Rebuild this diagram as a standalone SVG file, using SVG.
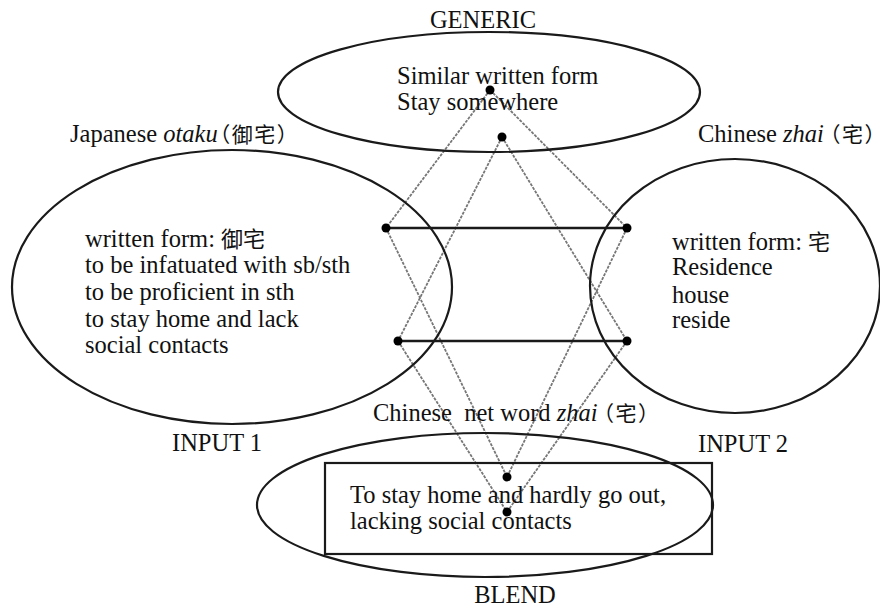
<svg xmlns="http://www.w3.org/2000/svg" width="880" height="609" viewBox="0 0 880 609">
<style>
text{font-family:"Liberation Serif","Noto Sans CJK SC",serif;font-size:24.5px;fill:#111}
.cjk{font-size:22px}
.par{font-size:21px;font-feature-settings:"halt";letter-spacing:1.5px}
.sp{fill:none;stroke:#1a1a1a;stroke-width:2.2}
.link{stroke:#1a1a1a;stroke-width:2.6}
.map{stroke:#777;stroke-width:1.8;stroke-dasharray:3 1.2}
.dot{fill:#000}
</style>
<rect width="880" height="609" fill="#fff"/>
<g id="connectors">
<line class="map" x1="490" y1="90" x2="386" y2="228"/>
<line class="map" x1="490" y1="90" x2="627" y2="228"/>
<line class="map" x1="502" y1="137" x2="398" y2="341"/>
<line class="map" x1="502" y1="137" x2="627" y2="341"/>
<line class="map" x1="386" y1="228" x2="507" y2="477"/>
<line class="map" x1="627" y1="228" x2="507" y2="477"/>
<line class="map" x1="398" y1="341" x2="507" y2="512"/>
<line class="map" x1="627" y1="341" x2="507" y2="512"/>
<line class="link" x1="386" y1="228" x2="627" y2="228"/>
<line class="link" x1="398" y1="341" x2="627" y2="341"/>
</g>
<g id="generic">
<ellipse class="sp" cx="489" cy="92" rx="211" ry="60"/>
<text x="483" y="28" text-anchor="middle">GENERIC</text>
<text x="397" y="84">Similar written form</text>
<text x="397" y="110">Stay somewhere</text>
<circle class="dot" cx="490" cy="90" r="4.5"/>
<circle class="dot" cx="502" cy="137" r="4.5"/>
</g>
<g id="input1">
<ellipse class="sp" cx="232" cy="287" rx="220" ry="137"/>
<text x="70" y="142">Japanese <tspan font-style="italic">otaku</tspan><tspan class="par" dx="2">（御宅）</tspan></text>
<text x="85" y="247">written form: <tspan class="cjk">御宅</tspan></text>
<text x="85" y="273">to be infatuated with sb/sth</text>
<text x="85" y="300">to be proficient in sth</text>
<text x="85" y="327">to stay home and lack</text>
<text x="85" y="353">social contacts</text>
<text x="172" y="451">INPUT 1</text>
<circle class="dot" cx="386" cy="228" r="4.5"/>
<circle class="dot" cx="398" cy="341" r="4.5"/>
</g>
<g id="input2">
<ellipse class="sp" cx="735" cy="286" rx="145" ry="127"/>
<text x="698" y="142">Chinese <tspan font-style="italic">zhai</tspan><tspan class="par" dx="6">（宅）</tspan></text>
<text x="672" y="250">written form: <tspan class="cjk">宅</tspan></text>
<text x="672" y="275">Residence</text>
<text x="672" y="303">house</text>
<text x="672" y="328">reside</text>
<text x="698" y="452">INPUT 2</text>
<circle class="dot" cx="627" cy="228" r="4.5"/>
<circle class="dot" cx="627" cy="341" r="4.5"/>
</g>
<g id="blend">
<ellipse class="sp" cx="485" cy="505" rx="228" ry="72"/>
<rect class="sp" x="325" y="463" width="387" height="91" stroke-width="2.6"/>
<text x="373" y="421">Chinese&#160; net word <tspan font-style="italic">zhai</tspan><tspan class="par" dx="6">（宅）</tspan></text>
<text x="350" y="503">To stay home and hardly go out,</text>
<text x="350" y="529">lacking social contacts</text>
<text x="515" y="603" text-anchor="middle">BLEND</text>
<circle class="dot" cx="507" cy="477" r="4.5"/>
<circle class="dot" cx="507" cy="512" r="4.5"/>
</g>
</svg>
